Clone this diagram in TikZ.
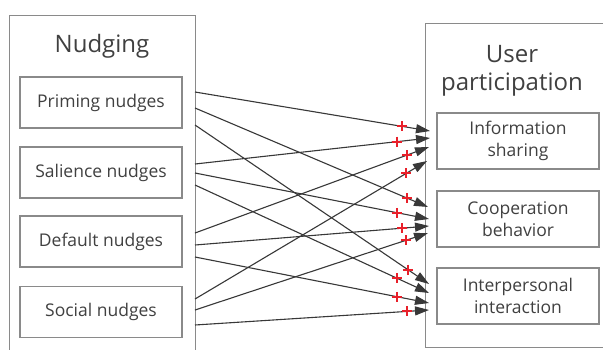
\documentclass[tikz,border=0pt]{standalone}
\usepackage{fontspec}
\setmainfont{Open Sans}
\usetikzlibrary{arrows.meta}
\definecolor{framegray}{HTML}{8A8A8A}
\definecolor{textgray}{HTML}{404040}
\definecolor{linkgray}{HTML}{383838}
\definecolor{plusred}{HTML}{E8202A}
\tikzset{
  frame/.style={draw=framegray, line width=1.4pt, inner sep=0pt},
  itembox/.style={draw=framegray, line width=1.3pt, minimum width=162pt,
    inner sep=0pt, text=textgray, align=center,
    font=\fontsize{17.5}{22}\selectfont},
  titletext/.style={text=textgray, align=center, inner sep=0pt,
    font=\fontsize{24}{28}\selectfont},
  link/.style={draw=linkgray, line width=1.1pt,
    -{Triangle[length=14pt,width=9pt]}},
  plusmark/.pic={\draw[arrows=-, draw=plusred, line width=2pt] (-5,0)--(5,0) (0,-5)--(0,5);}
}
\begin{document}
\begin{tikzpicture}[x=1pt,y=-1pt]
\useasboundingbox (0,0) rectangle (603,349);
\clip (0,0) rectangle (603,349);
\fill[white] (0,0) rectangle (603,349);

% left group: nudge types
\node[frame, minimum width=186pt, minimum height=360pt, anchor=north west] (nudging) at (9,15) {};
\node[titletext, anchor=base] (nudgetitle) at (102,52) {Nudging};
\node[itembox, minimum height=51pt] (prim) at (101,102.5) {Priming nudges};
\node[itembox, minimum height=51pt] (sal)  at (101,172.5) {Salience nudges};
\node[itembox, minimum height=51pt] (def)  at (101,241.5) {Default nudges};
\node[itembox, minimum height=51pt] (soc)  at (101,312)   {Social nudges};

% right group: participation outcomes
\node[frame, minimum width=200pt, minimum height=324pt, anchor=north west] (userpart) at (425,23) {};
\node[titletext] (usertitle) at (512,71) {User\\participation};
\node[itembox, minimum height=56pt] (info) at (518,141) {Information\\sharing};
\node[itembox, minimum height=56pt] (coop) at (518,219) {Cooperation\\behavior};
\node[itembox, minimum height=56pt] (inter) at (518,296) {Interpersonal\\interaction};

% start points on the left frame
\coordinate (p1) at (195,92);  \coordinate (p2) at (195,108); \coordinate (p3) at (195,125);
\coordinate (s1) at (195,164); \coordinate (s2) at (195,173); \coordinate (s3) at (195,185);
\coordinate (d1) at (195,233); \coordinate (d2) at (195,245); \coordinate (d3) at (195,257);
\coordinate (c1) at (195,299); \coordinate (c2) at (195,310); \coordinate (c3) at (195,325);

% arrow tips at the right frame
\coordinate (i1) at (430,131); \coordinate (i2) at (430,138); \coordinate (i3) at (429,147); \coordinate (i4) at (427,161);
\coordinate (k1) at (428,207); \coordinate (k2) at (429,219); \coordinate (k3) at (429,226); \coordinate (k4) at (428,233);
\coordinate (n1) at (429,284); \coordinate (n2) at (429,293); \coordinate (n3) at (429,303); \coordinate (n4) at (429,310);

% positive links, each with a marker point for its sign
\draw[link] (p1) -- coordinate[pos=0.88]  (m1)  (i1);
\draw[link] (s1) -- coordinate[pos=0.86]  (m2)  (i2);
\draw[link] (d1) -- coordinate[pos=0.905] (m3)  (i3);
\draw[link] (c1) -- coordinate[pos=0.91]  (m4)  (i4);

\draw[link] (p2) -- coordinate[pos=0.91]  (m5)  (k1);
\draw[link] (s2) -- coordinate[pos=0.865] (m6)  (k2);
\draw[link] (d2) -- coordinate[pos=0.885] (m7)  (k3);
\draw[link] (c2) -- coordinate[pos=0.905] (m8)  (k4);

\draw[link] (p3) -- coordinate[pos=0.91]  (m9)  (n1);
\draw[link] (s3) -- coordinate[pos=0.865] (m10) (n2);
\draw[link] (d3) -- coordinate[pos=0.865] (m11) (n3);
\draw[link] (c3) -- coordinate[pos=0.905] (m12) (n4);

% plus signs on top of the links
\foreach \m in {m1,m2,m3,m4,m5,m6,m7,m8,m9,m10,m11,m12}
  \pic at (\m) {plusmark};
\end{tikzpicture}
\end{document}
